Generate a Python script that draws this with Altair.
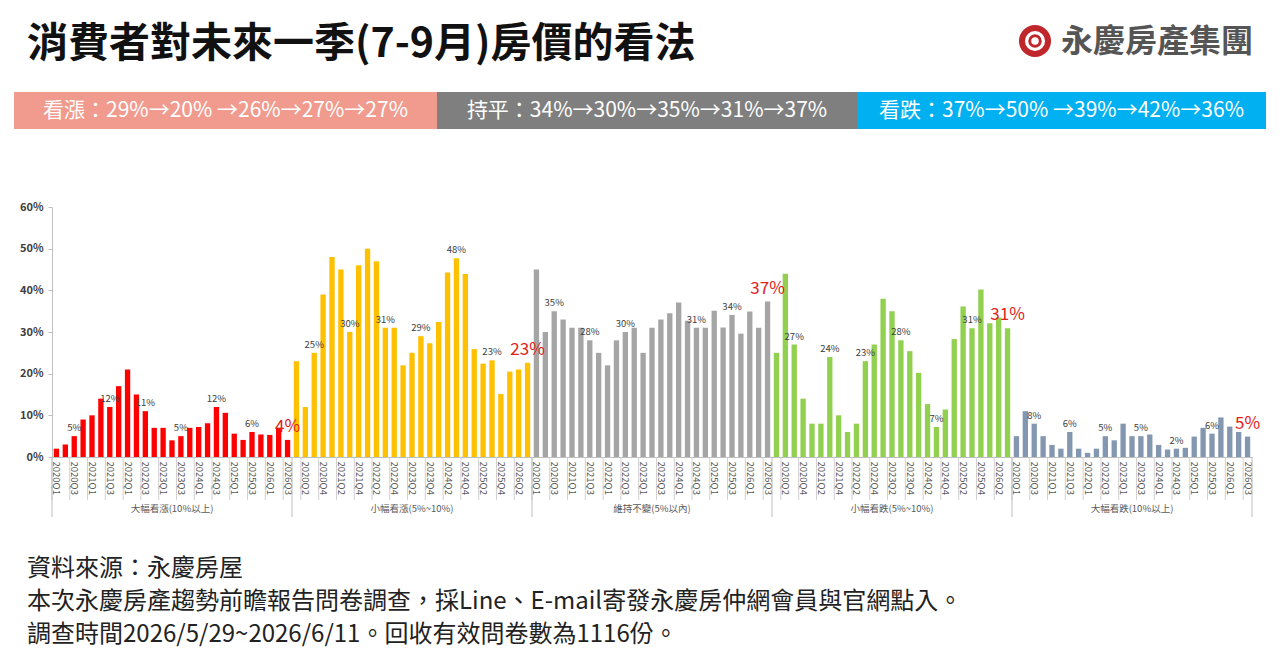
import altair as alt
import pandas as pd

FONT = "Noto Sans CJK TC"

quarters = ["2020Q1", "2020Q2", "2020Q3", "2020Q4",
            "2021Q1", "2021Q2", "2021Q3", "2021Q4",
            "2022Q1", "2022Q2", "2022Q3", "2022Q4",
            "2023Q1", "2023Q2", "2023Q3", "2023Q4",
            "2024Q1", "2024Q2", "2024Q3", "2024Q4",
            "2025Q1", "2025Q2", "2025Q3", "2025Q4",
            "2026Q1", "2026Q2", "2026Q3"]

groups = ["大幅看漲(10%以上)", "小幅看漲(5%~10%)", "維持不變(5%以內)",
          "小幅看跌(5%~10%)", "大幅看跌(10%以上)"]
colors = ["#FF0000", "#FFC000", "#A5A5A5", "#92D050", "#8497B0"]

big_up = [2, 3, 5, 9, 10, 14, 12, 17, 21, 15, 11, 7, 7, 4, 5, 7, 7.2, 8.1,
          12, 10.6, 5.6, 4.1, 6, 5.4, 5.3, 7, 4.1]
small_up = [23, 12, 25, 39, 48, 45, 30, 46, 50, 47, 31, 31, 22, 25, 29, 27.3,
            32.4, 44.3, 47.7, 43.9, 25.9, 22.4, 23.2, 15.1, 20.5, 21, 22.6]
flat = [45, 30, 35, 33, 31, 31, 28, 25, 22, 28, 30, 31, 25, 31, 33, 34.5,
        37.1, 32.7, 31, 31, 35.1, 31.1, 34.1, 29.6, 34.9, 31, 37.3]
small_down = [25, 44, 27, 14, 8, 8, 24, 10, 6, 8, 23, 27, 38, 35, 28, 25.4,
              20.2, 12.7, 7.2, 11.4, 28.3, 36.1, 30.9, 40.2, 32.1, 33.5, 30.9]
big_down = [5, 11, 8, 5, 2.9, 2, 6, 2, 1, 2, 5, 4, 8, 5, 5, 5.4, 2.9, 1.8, 2,
            2.2, 4.9, 7, 5.6, 9.5, 7.3, 6, 4.9]

series = [big_up, small_up, flat, small_down, big_down]

# indices (within each group) that carry a small value label
small_label_idx = [
    [2, 6, 10, 14, 18, 22],
    [2, 6, 10, 14, 18, 22],
    [2, 6, 10, 18, 22],
    [2, 6, 10, 14, 18, 22],
    [2, 6, 10, 14, 18, 22],
]
red_label_idx = 26

banner_texts = ["看漲：29%→20% →26%→27%→27%",
                "持平：34%→30%→35%→31%→37%",
                "看跌：37%→50% →39%→42%→36%"]
banner_colors = ["#F19A8E", "#7F7F7F", "#00B0F0"]

title_text = "消費者對未來一季(7-9月)房價的看法"
logo_text = "永慶房產集團"
footer_lines = ["資料來源：永慶房屋",
                "本次永慶房產趨勢前瞻報告問卷調查，採Line、E-mail寄發永慶房仲網會員與官網點入。",
                "調查時間2026/5/29~2026/6/11。回收有效問卷數為1116份。"]

rows = []
gidx = 0
for g, (name, vals) in enumerate(zip(groups, series)):
    for i, (q, v) in enumerate(zip(quarters, vals)):
        rows.append({
            "key": f"{name}|{q}",
            "group": name,
            "quarter": q,
            "value": v,
            "idx": gidx,
            "pos": i,
            "small": f"{round(v)}%" if i in small_label_idx[g] else "",
            "red": f"{round(v)}%" if i == red_label_idx else "",
        })
        gidx += 1
df = pd.DataFrame(rows)
keys = list(df["key"])
even_keys = [k for k, n in zip(keys, df["idx"]) if n % 2 == 0]

W, H = 1200, 250
STEP = W / len(keys)

xenc = alt.X("key:N", sort=keys, title=None,
             scale=alt.Scale(paddingInner=0.4, paddingOuter=0.2),
             axis=alt.Axis(values=even_keys,
                           labelExpr="split(datum.value, '|')[1]",
                           labelAngle=90, labelAlign="left", labelBaseline="middle",
                           labelFontSize=9.5, labelColor="#595959", labelFont=FONT,
                           labelPadding=4, ticks=False, domainColor="#BFBFBF",
                           labelOverlap=False))
yenc = alt.Y("value:Q", title=None,
             scale=alt.Scale(domain=[0, 60], nice=False),
             axis=alt.Axis(values=[0, 10, 20, 30, 40, 50, 60],
                           labelExpr="datum.value + '%'", grid=False,
                           labelFontSize=11, labelFontWeight="bold",
                           labelColor="#404040", labelFont=FONT,
                           tickSize=4, tickColor="#BFBFBF", domainColor="#BFBFBF",
                           labelPadding=5))

base = alt.Chart(df)

bars = base.mark_bar().encode(
    x=xenc, y=yenc,
    color=alt.Color("group:N", scale=alt.Scale(domain=groups, range=colors), legend=None),
)

small_labels = base.transform_filter("datum.small != ''").mark_text(
    baseline="bottom", dy=-3, fontSize=9.5, color="#404040", font=FONT
).encode(x=xenc, y=yenc, text="small:N")

red_labels = base.transform_filter("datum.red != ''").mark_text(
    baseline="bottom", dy=-4, fontSize=17, color="#E32119", font=FONT
).encode(x=xenc, y=yenc, text="red:N")

ticks = base.transform_filter("datum.idx % 2 == 0").mark_rule(
    xOffset=-STEP / 2, color="#D0D0D0", strokeWidth=1
).encode(x=xenc, y=alt.value(H), y2=alt.value(H + 43))

seps = base.transform_filter("datum.pos == 0").mark_rule(
    xOffset=-STEP / 2, color="#BFBFBF", strokeWidth=1
).encode(x=xenc, y=alt.value(H), y2=alt.value(H + 60))

end_sep = base.transform_filter(f"datum.idx == {len(keys) - 1}").mark_rule(
    xOffset=STEP / 2, color="#BFBFBF", strokeWidth=1
).encode(x=xenc, y=alt.value(H), y2=alt.value(H + 60))

group_labels = base.transform_filter("datum.pos == 13").mark_text(
    fontSize=9.5, color="#595959", font=FONT, baseline="middle"
).encode(x=xenc, y=alt.value(H + 52), text="group:N")

layers = [bars, small_labels, red_labels, ticks, seps, end_sep, group_labels]

# title
layers.append(alt.Chart(pd.DataFrame({"t": [title_text]})).mark_text(
    align="left", baseline="middle", fontSize=41, fontWeight="bold",
    font=FONT, color="#111111"
).encode(x=alt.value(-25), y=alt.value(-162), text="t:N"))

# logo
logo_df = pd.DataFrame({"t": [logo_text]})
layers.append(alt.Chart(logo_df).mark_point(
    shape="circle", filled=False, stroke="#C0272D", strokeWidth=6, size=680, opacity=1
).encode(x=alt.value(983), y=alt.value(-166)))
layers.append(alt.Chart(logo_df).mark_point(
    shape="circle", filled=False, stroke="#C0272D", strokeWidth=3, size=110, opacity=1
).encode(x=alt.value(983), y=alt.value(-166)))
layers.append(alt.Chart(logo_df).mark_text(
    align="left", baseline="middle", fontSize=32, fontWeight="bold",
    font=FONT, color="#555555"
).encode(x=alt.value(1009), y=alt.value(-165), text="t:N"))

# banner
seg_edges = [-38, 385, 805, 1214]
for i, (txt, col) in enumerate(zip(banner_texts, banner_colors)):
    bdf = pd.DataFrame({"t": [txt]})
    layers.append(alt.Chart(bdf).mark_rect(color=col).encode(
        x=alt.value(seg_edges[i]), x2=alt.value(seg_edges[i + 1]),
        y=alt.value(-115), y2=alt.value(-78)))
    layers.append(alt.Chart(bdf).mark_text(
        align="center", baseline="middle", fontSize=21, font=FONT, color="white"
    ).encode(x=alt.value((seg_edges[i] + seg_edges[i + 1]) / 2),
             y=alt.value(-96), text="t:N"))

# footer
for i, line in enumerate(footer_lines):
    layers.append(alt.Chart(pd.DataFrame({"t": [line]})).mark_text(
        align="left", baseline="middle", fontSize=24, font=FONT, color="#222222"
    ).encode(x=alt.value(-25), y=alt.value(362 + 33 * i), text="t:N"))

chart = alt.layer(*layers).properties(
    width=W, height=H,
    autosize=alt.AutoSizeParams(type="none"),
    padding={"left": 52, "top": 207, "right": 28, "bottom": 209},
    background="white",
).configure_view(stroke=None)

chart.save("out.html", embed_options={"renderer": "svg", "actions": False})
